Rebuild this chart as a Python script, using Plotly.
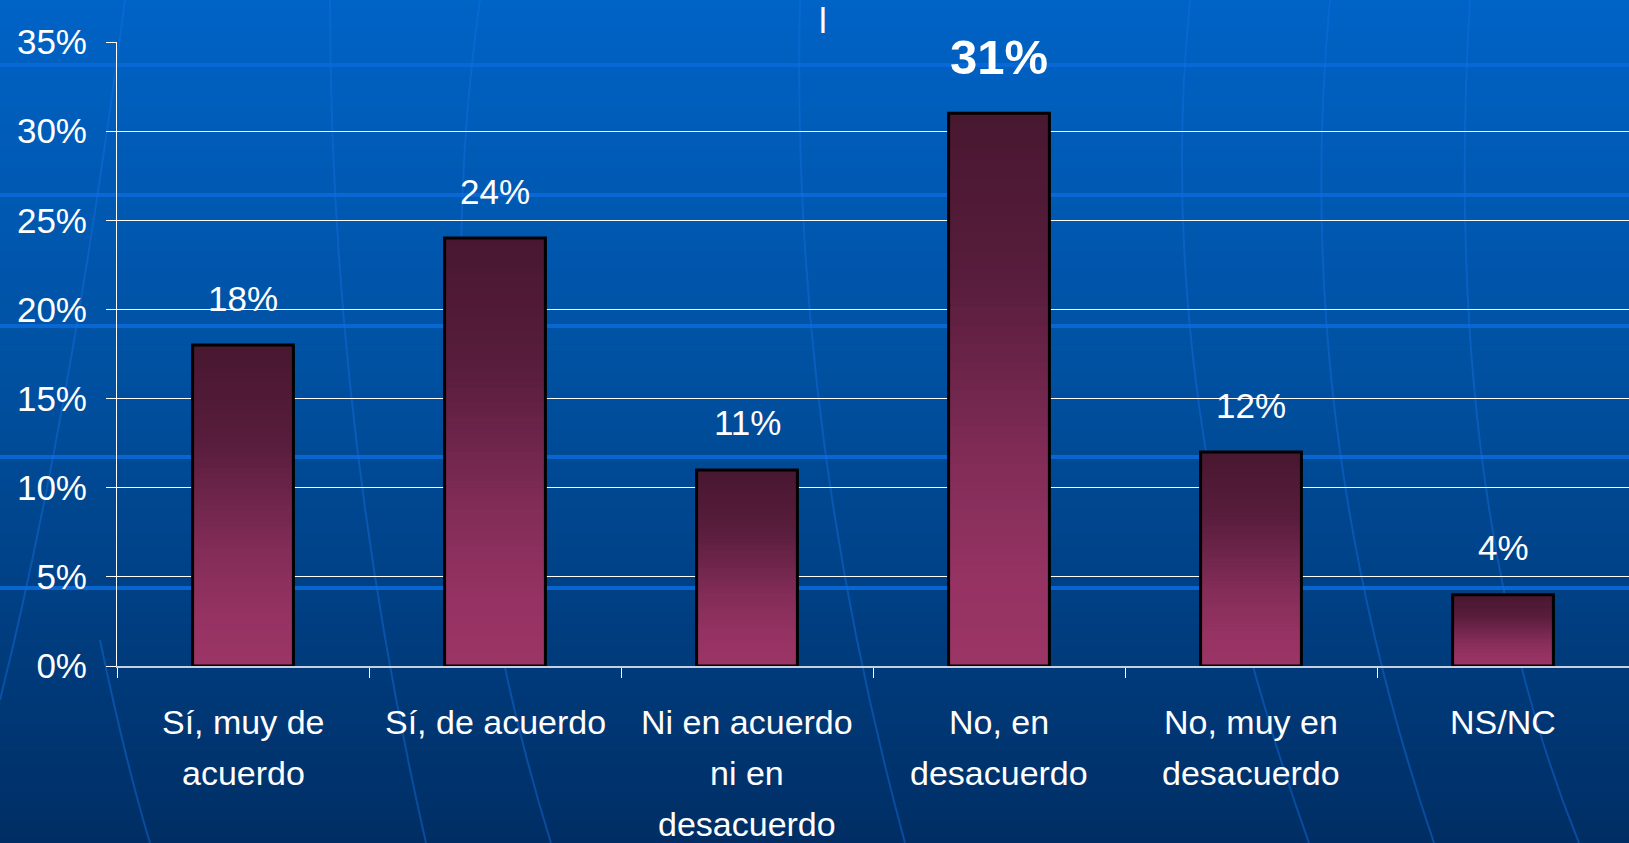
import plotly.graph_objects as go

# Datos del gráfico (porcentajes de respuesta)
categorias = ["Sí, muy de\nacuerdo", "Sí, de acuerdo", "Ni en acuerdo\nni en\ndesacuerdo",
              "No, en\ndesacuerdo", "No, muy en\ndesacuerdo", "NS/NC"]
valores = [18, 24, 11, 31, 12, 4]
etiquetas = ["18%", "24%", "11%", "31%", "12%", "4%"]
destacado = "31%"
ticks_y = [0, 5, 10, 15, 20, 25, 30, 35]
ticks_y_texto = ["0%", "5%", "10%", "15%", "20%", "25%", "30%", "35%"]

W, H = 1629, 843
L, R, T, B = 117, 0, 42, 177
PW, PH = W - L - R, H - T - B


def px(x):
    return (x - L) / PW


def py(y):
    return (H - B - y) / PH


def mezcla(stops, t):
    for (t0, c0), (t1, c1) in zip(stops, stops[1:]):
        if t <= t1:
            f = (t - t0) / (t1 - t0) if t1 > t0 else 0
            c = [round(a + (b - a) * f) for a, b in zip(c0, c1)]
            return f"rgb({c[0]},{c[1]},{c[2]})"
    c = stops[-1][1]
    return f"rgb({c[0]},{c[1]},{c[2]})"


fondo = [(0, (0, 99, 198)), (0.45, (0, 80, 160)), (0.8, (0, 58, 122)), (1, (0, 46, 100))]
granate = [(0, (72, 23, 48)), (0.3, (88, 29, 60)), (0.65, (132, 45, 89)), (0.85, (150, 51, 99)), (1, (155, 53, 102))]

fig = go.Figure()

# Barras con degradado: N franjas solapadas por barra (sin costuras)
N = 60
for i in range(N):
    t = 1 - (i + 0.5) / N  # 0 arriba, 1 abajo
    fig.add_trace(go.Bar(
        x=categorias,
        y=[min(v * 2 / N, v - v * i / N) for v in valores],
        base=[v * i / N for v in valores],
        width=0.4,
        marker=dict(color=mezcla(granate, t), line=dict(width=0)),
        hoverinfo="skip",
        showlegend=False,
    ))
# Contorno negro
fig.add_trace(go.Bar(
    x=categorias, y=valores, width=0.4,
    marker=dict(color="rgba(0,0,0,0)", line=dict(color="black", width=3)),
    showlegend=False,
))

# Fondo degradado azul
shapes = []
M = 120
for k in range(M):
    y0, y1 = H * k / M, H * (k + 1) / M + 1
    shapes.append(dict(type="rect", xref="paper", yref="paper", layer="below",
                       x0=px(0), x1=px(W), y0=py(y1), y1=py(y0),
                       fillcolor=mezcla(fondo, (k + 0.5) / M), line=dict(width=0)))
# Bandas horizontales claras
for yb in [65, 195, 326, 457, 588]:
    shapes.append(dict(type="line", xref="paper", yref="paper", layer="below",
                       x0=px(0), x1=px(W), y0=py(yb), y1=py(yb),
                       line=dict(color="rgba(10,105,215,0.9)", width=4)))
# Meridianos tenues
curvas = [((125, 0), (70, 420), (0, 700)), ((100, 640), (125, 760), (150, 843)),
          ((330, 0), (330, 420), (426, 843)), ((480, 0), (420, 420), (551, 843)),
          ((800, 0), (790, 420), (905, 843)), ((1190, 0), (1150, 400), (1309, 843)),
          ((1330, 0), (1290, 420), (1434, 843)), ((1470, 0), (1440, 500), (1579, 843))]
for (a, b, c) in curvas:
    path = f"M {px(a[0])},{py(a[1])} Q {px(b[0])},{py(b[1])} {px(c[0])},{py(c[1])}"
    shapes.append(dict(type="path", xref="paper", yref="paper", layer="below", path=path,
                       line=dict(color="rgba(20,110,225,0.45)", width=2)))

# Etiquetas de datos
anots = []
for c, v, e in zip(categorias, valores, etiquetas):
    if e == destacado:
        anots.append(dict(x=c, y=v, text=f"<b>{e}</b>", showarrow=False, yanchor="middle",
                          yshift=56, font=dict(size=49, color="white")))
    else:
        anots.append(dict(x=c, y=v, text=e, showarrow=False, yanchor="middle",
                          yshift=47, font=dict(size=35, color="white")))
# Etiquetas de categoría, una línea por anotación
for c in categorias:
    for j, linea in enumerate(c.split("\n")):
        anots.append(dict(x=c, y=0, text=linea, showarrow=False, yanchor="middle",
                          borderpad=0, yshift=-(56 + 51 * j), font=dict(size=34, color="white")))
# Título residual "l"
anots.append(dict(x=px(823), y=py(21), xref="paper", yref="paper", text="l", showarrow=False,
                  yanchor="middle", font=dict(size=35, color="white")))

fig.update_layout(
    width=W, height=H,
    margin=dict(l=L, r=R, t=T, b=B, pad=0),
    barmode="overlay",
    paper_bgcolor="#004a98",
    plot_bgcolor="rgba(0,0,0,0)",
    font=dict(family="Liberation Sans, Arial, sans-serif", color="white"),
    shapes=shapes,
    annotations=anots,
    showlegend=False,
)
fig.update_xaxes(
    type="category", showticklabels=False, tickson="boundaries",
    ticks="outside", ticklen=10, tickcolor="white", tickwidth=1,
    showline=True, linecolor="#c9cfdc", linewidth=2, showgrid=False,
)
fig.update_yaxes(
    range=[0, 35], tickvals=ticks_y, ticktext=ticks_y_texto,
    tickfont=dict(size=35, color="white"), ticklabelstandoff=12,
    ticks="outside", ticklen=10, tickcolor="white",
    showline=True, linecolor="white", linewidth=1,
    showgrid=True, gridcolor="white", gridwidth=1, zeroline=False,
)

# Sin margen en el body para que la figura ocupe toda la ventana
fig.write_html("out.html", config={"displayModeBar": False},
               post_script="document.body.style.margin='0';")
